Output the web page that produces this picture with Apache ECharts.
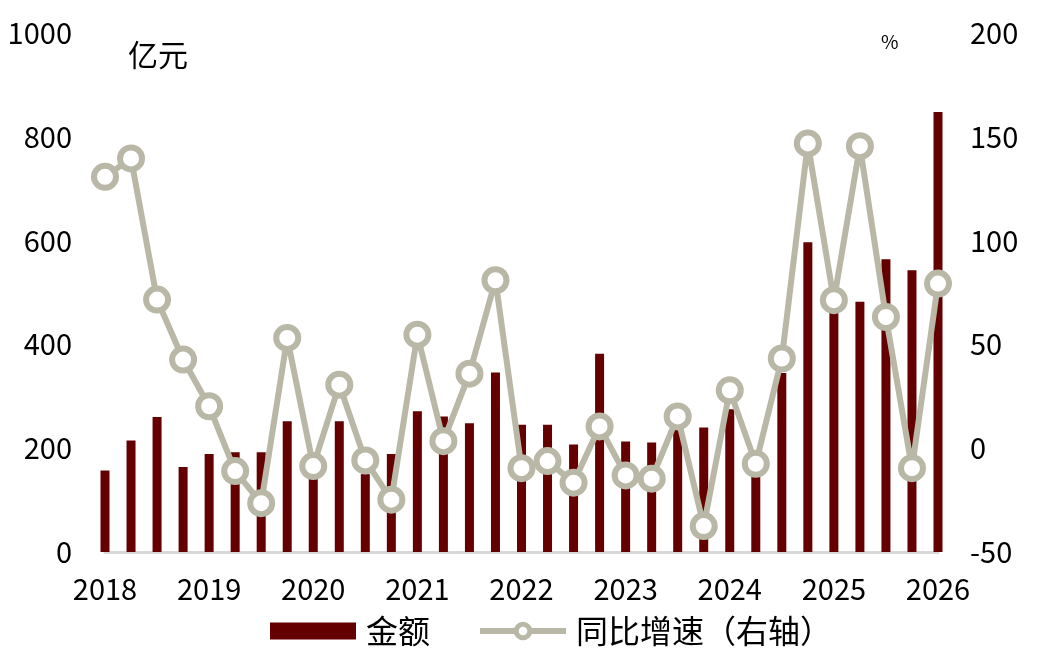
<!DOCTYPE html>
<html>
<head>
<meta charset="utf-8">
<script src="https://cdn.jsdelivr.net/npm/echarts@6/dist/echarts.min.js"></script>
<style>
  html, body { margin: 0; padding: 0; background: #fff; }
  #chart { width: 1041px; height: 665px; }
</style>
</head>
<body>
<div id="chart"></div>
<script>
// 季度
var quarters = [
    '2018Q1', '2018Q2', '2018Q3', '2018Q4',
    '2019Q1', '2019Q2', '2019Q3', '2019Q4',
    '2020Q1', '2020Q2', '2020Q3', '2020Q4',
    '2021Q1', '2021Q2', '2021Q3', '2021Q4',
    '2022Q1', '2022Q2', '2022Q3', '2022Q4',
    '2023Q1', '2023Q2', '2023Q3', '2023Q4',
    '2024Q1', '2024Q2', '2024Q3', '2024Q4',
    '2025Q1', '2025Q2', '2025Q3', '2025Q4',
    '2026Q1'
];

// 金额（亿元）
var amount = [
    157, 215, 260, 164, 189, 192, 192, 252,
    165, 252, 150, 189, 271, 261, 248, 346,
    245, 245, 207, 382, 213, 211, 238, 240,
    275, 158, 345, 597, 470, 482, 564, 543,
    848
];

// 同比增速（%）
var growth = [
    130.7, 139.6, 71.6, 42.7, 20.2, -11.0, -26.5, 53.1,
    -8.6, 30.6, -5.9, -24.8, 54.7, 3.4, 35.9, 80.9,
    -9.6, -6.2, -16.6, 10.5, -13.1, -14.7, 15.3, -37.5,
    27.9, -7.5, 43.2, 146.8, 71.3, 145.5, 63.2, -9.6,
    79.3
];

var font = '"Noto Sans CJK SC", "Noto Sans", sans-serif';
var lineColor = '#b9b8a6';

var chart = echarts.init(document.getElementById('chart'));

var option = {
    animation: false,
    textStyle: { fontFamily: font },
    grid: {
        left: 105,
        right: 103,
        top: 33,
        bottom: 113
    },
    legend: {
        top: 615,
        left: 270,
        padding: 0,
        itemGap: 47,
        itemWidth: 86,
        itemHeight: 17,
        textStyle: { fontSize: 32, color: '#000', fontFamily: font, padding: [0, 0, 0, 5] },
        data: [
            { name: '金额', icon: 'rect', itemStyle: { color: '#640000' } },
            {
                name: '同比增速（右轴）',
                lineStyle: { color: lineColor, width: 6 },
                itemStyle: { color: '#fff', borderColor: lineColor, borderWidth: 5 }
            }
        ]
    },
    graphic: [
        { type: 'text', left: 128, top: 40, style: { text: '亿元', fill: '#000', font: '30px ' + font } },
        { type: 'text', left: 881, top: 32, style: { text: '%', fill: '#000', font: '19px ' + font } }
    ],
    xAxis: {
        type: 'category',
        data: quarters,
        boundaryGap: false,
        axisLine: { show: true, lineStyle: { color: '#d9d9d9', width: 3 } },
        axisTick: { show: false },
        axisLabel: {
            interval: 0,
            margin: 22,
            fontSize: 29,
            color: '#000',
            formatter: function (v) {
                return v.slice(4) === 'Q1' ? v.slice(0, 4) : '';
            }
        },
        splitLine: { show: false }
    },
    yAxis: [{
        type: 'value',
        min: 0,
        max: 1000,
        interval: 200,
        axisLine: { show: false },
        axisTick: { show: false },
        splitLine: { show: false },
        axisLabel: {
            fontSize: 29,
            color: '#000',
            margin: 33,
            formatter: function (v) { return String(v); }
        }
    }, {
        type: 'value',
        min: -50,
        max: 200,
        interval: 50,
        axisLine: { show: false },
        axisTick: { show: false },
        splitLine: { show: false },
        axisLabel: {
            fontSize: 29,
            color: '#000',
            margin: 32,
            formatter: function (v) { return String(v); }
        }
    }],
    series: [{
        name: '金额',
        type: 'bar',
        data: amount,
        barWidth: 9,
        itemStyle: { color: '#640000' }
    }, {
        name: '同比增速（右轴）',
        type: 'line',
        yAxisIndex: 1,
        data: growth,
        symbol: 'circle',
        symbolSize: 22,
        lineStyle: { color: lineColor, width: 6 },
        itemStyle: { color: '#fff', borderColor: lineColor, borderWidth: 6 }
    }]
};

chart.setOption(option);
</script>
</body>
</html>
